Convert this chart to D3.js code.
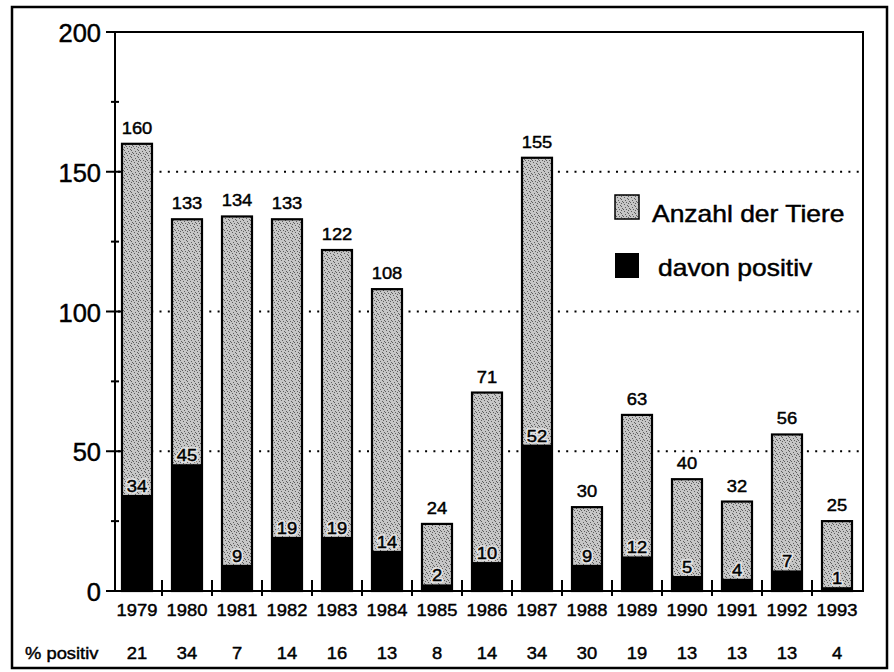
<!DOCTYPE html>
<html>
<head>
<meta charset="utf-8">
<script src="https://cdn.jsdelivr.net/npm/d3@7"></script>
<style>
  body { margin: 0; background: #fff; }
  text { font-family: "Liberation Sans", Arial, sans-serif; fill: #000; stroke: #000; stroke-width: 0.45px; }
</style>
</head>
<body>
<script>
// data
let years = [1979, 1980, 1981, 1982, 1983, 1984, 1985, 1986, 1987, 1988, 1989, 1990, 1991, 1992, 1993];
let totals = [160, 133, 134, 133, 122, 108, 24, 71, 155, 30, 63, 40, 32, 56, 25];
let positives = [34, 45, 9, 19, 19, 14, 2, 10, 52, 9, 12, 5, 4, 7, 1];
let pctPositive = [21, 34, 7, 14, 16, 13, 8, 14, 34, 30, 19, 13, 13, 13, 4];
let yTicks = [0, 50, 100, 150, 200];
let yMinor = [25, 75, 125, 175];
let gridTicks = [50, 100, 150];
let legendItems = ["Anzahl der Tiere", "davon positiv"];

let width = 894, height = 672;

let svg = d3.select("body").append("svg")
    .attr("width", width)
    .attr("height", height);

// stipple pattern for the grey bars
let defs = svg.append("defs");
let pat = defs.append("pattern")
    .attr("id", "stipple")
    .attr("patternUnits", "userSpaceOnUse")
    .attr("width", 7)
    .attr("height", 7);
pat.append("rect").attr("width", 7).attr("height", 7).attr("fill", "#c6c6c6");
[[1, 1], [4, 2], [2, 4], [6, 5], [5, 0], [0, 6], [3, 6], [5, 3]].forEach(function(p) {
    pat.append("rect").attr("x", p[0]).attr("y", p[1])
        .attr("width", 1).attr("height", 1).attr("fill", "#5e5e5e");
});

let x = d3.scaleBand()
    .domain(years)
    .range([112, 862])
    .paddingInner(0.4)
    .paddingOuter(0.2);

let y = d3.scaleLinear()
    .domain([0, 200])
    .range([591, 32]);

// helper: text slightly stretched horizontally like the scan
function txt(g, tx, ty, s, size, anchor, sx, halo) {
    let tr = "translate(" + tx + "," + ty + ") scale(" + sx + ",1)";
    if (halo) {
        g.append("text")
            .attr("transform", tr)
            .attr("text-anchor", anchor)
            .style("font-size", size + "px")
            .style("fill", halo)
            .style("stroke", halo)
            .style("stroke-width", "3.5px")
            .text(s);
    }
    return g.append("text")
        .attr("transform", tr)
        .attr("text-anchor", anchor)
        .style("font-size", size + "px")
        .text(s);
}

// outer border
svg.append("rect")
    .attr("x", 12).attr("y", 7)
    .attr("width", 875).attr("height", 661)
    .attr("fill", "none")
    .attr("stroke", "#000")
    .attr("stroke-width", 2.5);

// dotted grid
svg.selectAll(".grid")
    .data(gridTicks)
    .enter()
    .append("line")
    .attr("class", "grid")
    .attr("x1", 118).attr("x2", 860)
    .attr("y1", d => y(d)).attr("y2", d => y(d))
    .attr("stroke", "#000")
    .attr("stroke-width", 2)
    .attr("stroke-dasharray", "2,6.3");

// bars
let bars = svg.selectAll(".bar")
    .data(years)
    .enter()
    .append("g")
    .attr("class", "bar");

bars.append("rect")
    .attr("x", d => x(d))
    .attr("y", (d, i) => y(totals[i]))
    .attr("width", x.bandwidth())
    .attr("height", (d, i) => y(0) - y(totals[i]))
    .attr("fill", "url(#stipple)")
    .attr("stroke", "#000")
    .attr("stroke-width", 2.2);

bars.append("rect")
    .attr("x", d => x(d))
    .attr("y", (d, i) => y(positives[i]))
    .attr("width", x.bandwidth())
    .attr("height", (d, i) => y(0) - y(positives[i]))
    .attr("fill", "#000")
    .attr("stroke", "#000")
    .attr("stroke-width", 2);

// labels
years.forEach(function(d, i) {
    let cx = x(d) + x.bandwidth() / 2;
    txt(svg, cx, y(totals[i]) - 10, totals[i], 17, "middle", 1.08);
    txt(svg, cx, y(positives[i]) - 4, positives[i], 17, "middle", 1.08, "#e4e4e4");
    txt(svg, cx, 616, d, 17, "middle", 1.08);
    txt(svg, cx, 659, pctPositive[i], 17, "middle", 1.08);
});
txt(svg, 25, 659, "% positiv", 17, "start", 1.08);

// plot frame
svg.append("rect")
    .attr("x", 115).attr("y", y(200))
    .attr("width", 748).attr("height", y(0) - y(200))
    .attr("fill", "none")
    .attr("stroke", "#000")
    .attr("stroke-width", 2);

// y axis ticks and labels
svg.selectAll(".ytick")
    .data(yTicks)
    .enter()
    .append("line")
    .attr("x1", 106).attr("x2", 123)
    .attr("y1", d => y(d)).attr("y2", d => y(d))
    .attr("stroke", "#000").attr("stroke-width", 2);

svg.selectAll(".yminor")
    .data(yMinor)
    .enter()
    .append("line")
    .attr("x1", 111).attr("x2", 119)
    .attr("y1", d => y(d)).attr("y2", d => y(d))
    .attr("stroke", "#000").attr("stroke-width", 2);

yTicks.forEach(function(d) {
    txt(svg, 101, y(d) + 10, d, 25, "end", 1.02);
});

// x axis line and ticks between categories
svg.append("line")
    .attr("x1", 106).attr("x2", 863)
    .attr("y1", y(0)).attr("y2", y(0))
    .attr("stroke", "#000").attr("stroke-width", 2);

svg.selectAll(".xtick")
    .data(years.slice(1))
    .enter()
    .append("line")
    .attr("x1", d => x(d) - x.step() * x.paddingInner() / 2)
    .attr("x2", d => x(d) - x.step() * x.paddingInner() / 2)
    .attr("y1", y(0) - 11).attr("y2", y(0) + 5)
    .attr("stroke", "#000").attr("stroke-width", 2);

// legend
let leg = svg.append("g");
leg.append("rect")
    .attr("x", 615).attr("y", 195)
    .attr("width", 24).attr("height", 24)
    .attr("fill", "url(#stipple)")
    .attr("stroke", "#000").attr("stroke-width", 1.5);
txt(leg, 652, 222, legendItems[0], 23, "start", 1.15);
leg.append("rect")
    .attr("x", 615).attr("y", 253)
    .attr("width", 24).attr("height", 25)
    .attr("fill", "#000");
txt(leg, 658, 276, legendItems[1], 23, "start", 1.15);
</script>
</body>
</html>
